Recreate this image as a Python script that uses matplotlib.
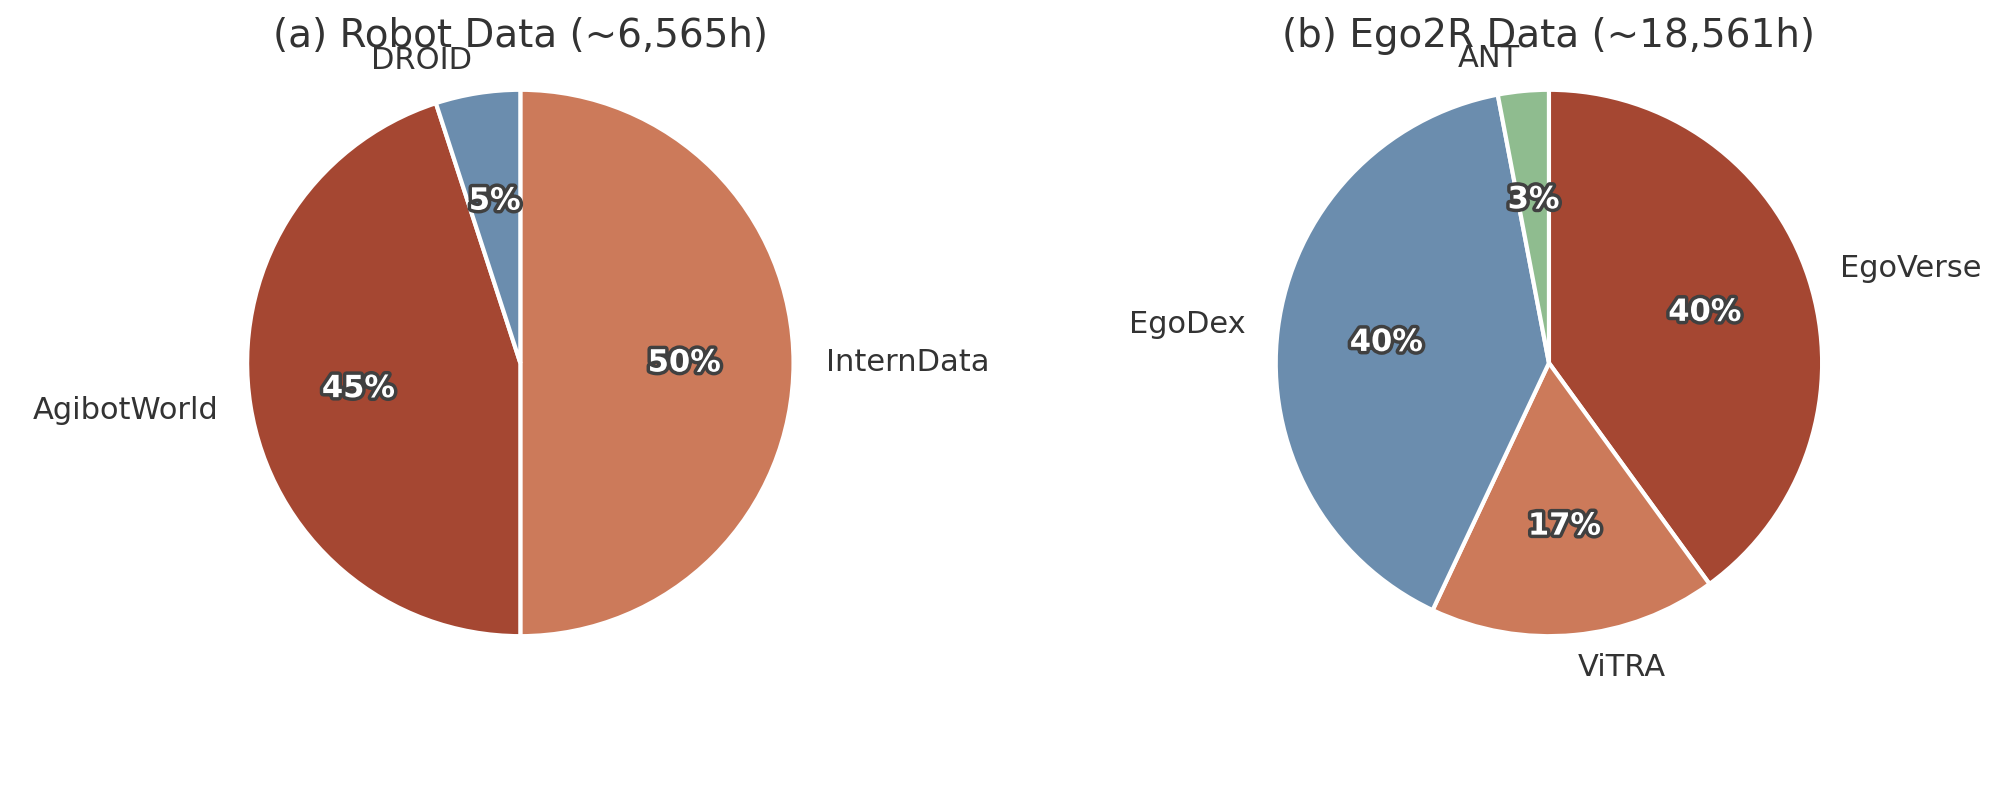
import matplotlib
matplotlib.use("Agg")
import matplotlib.pyplot as plt
import matplotlib.patheffects as pe

robot_labels = ["InternData", "AgibotWorld", "DROID"]
robot_values = [50, 45, 5]
ego_labels = ["EgoVerse", "ViTRA", "EgoDex", "ANT"]
ego_values = [40, 17, 40, 3]
titles = ["(a) Robot Data (~6,565h)", "(b) Ego2R Data (~18,561h)"]

c_orange = "#CC7A5A"
c_red = "#A54732"
c_blue = "#6B8DAE"
c_green = "#8FBC8F"
robot_colors = [c_orange, c_red, c_blue]
ego_colors = [c_red, c_orange, c_blue, c_green]

plt.rcParams['font.family'] = ['DejaVu Sans']
fig = plt.figure(figsize=(10.045, 3.98), dpi=200)
ah = 0.858
aw = ah * 796 / 2009
centers = [0.259, 0.771]
for cx, labels, vals, cols, title in zip(centers, [robot_labels, ego_labels],
                                         [robot_values, ego_values],
                                         [robot_colors, ego_colors], titles):
    ax = fig.add_axes([cx - aw / 2, 0.544 - ah / 2, aw, ah])
    wedges, texts, autotexts = ax.pie(
        vals, labels=labels, colors=cols, startangle=90, counterclock=False,
        autopct='%1.0f%%', pctdistance=0.6, labeldistance=1.12,
        wedgeprops=dict(edgecolor='white', linewidth=1.5),
        textprops=dict(fontsize=11, color='#333333'))
    for t in autotexts:
        t.set_color('white')
        t.set_fontweight('bold')
        t.set_fontsize(11)
        t.set_path_effects([pe.withStroke(linewidth=2.5, foreground='#404040')])
    ax.set_xlim(-1.25, 1.25)
    ax.set_ylim(-1.25, 1.25)
    ax.set_aspect('equal')
    fig.text(cx, 0.955, title, fontsize=14, color='#333333', ha='center', va='center')

fig.savefig("out.png", dpi=200)
